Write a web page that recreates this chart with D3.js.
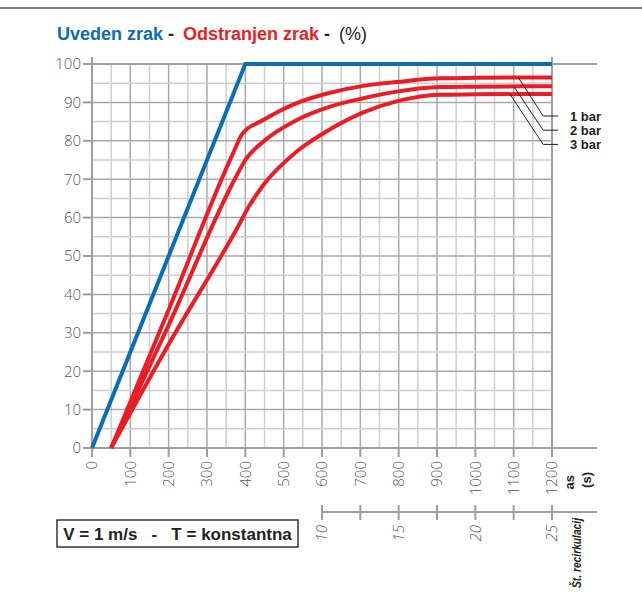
<!DOCTYPE html>
<html>
<head>
<meta charset="utf-8">
<script src="https://cdn.jsdelivr.net/npm/d3@7"></script>
<style>
  body { margin: 0; background: #fff; }
  svg { display: block; }
  .tick-lab { font-family: 'Open Sans', sans-serif; font-weight: 300; font-size: 15px; fill: #555; }
  .anno { font-family: 'Liberation Sans', sans-serif; font-weight: bold; fill: #222; }
</style>
</head>
<body>
<div id="chart"></div>
<script>
// Values
const xTicks = [0, 100, 200, 300, 400, 500, 600, 700, 800, 900, 1000, 1100, 1200];
const yTicks = [0, 10, 20, 30, 40, 50, 60, 70, 80, 90, 100];
const recircTicks = [10, 12.5, 15, 17.5, 20, 22.5, 25];
const recircLabels = [10, 15, 20, 25];

// Uveden zrak (air in)
const inTime = [0, 400, 1200];
const inPct = [0, 100, 100];

// Odstranjen zrak (air out), one series per pressure
const barNames = ['1 bar', '2 bar', '3 bar'];
const outTime = [
  [50, 200, 370, 392, 447, 534, 621, 708, 795, 908, 1000, 1200],
  [50, 200, 375, 400, 447, 534, 621, 708, 795, 908, 1000, 1200],
  [50, 200, 380, 410, 447, 534, 621, 708, 799, 908, 1000, 1200]
];
const outPct = [
  [0, 36, 77.2, 81.8, 85.4, 89.8, 92.5, 94.3, 95.3, 96.3, 96.4, 96.5],
  [0, 32, 70.5, 75, 79.8, 85.4, 88.9, 91.1, 92.8, 94.0, 94.1, 94.2],
  [0, 27, 57.5, 63, 68.5, 77.2, 83.0, 87.4, 90.4, 92.0, 92.1, 92.2]
];

const W = 642, H = 600;
const svg = d3.select('#chart').append('svg')
  .attr('width', W)
  .attr('height', H);

const x = d3.scaleLinear().domain([0, 1200]).range([92, 552]);
const y = d3.scaleLinear().domain([0, 100]).range([448, 64]);
// recirculations are shown under the time axis: 10 at 600 s, 25 at 1200 s
const r = d3.scaleLinear().domain([10, 25]).range([x(600), x(1200)]);

const blue = '#0b6db5';
const red = '#ec1c24';

// top rule
svg.append('line')
  .attr('x1', 0).attr('x2', W)
  .attr('y1', 8).attr('y2', 8)
  .attr('stroke', '#555').attr('stroke-width', 1.5);

// title
const title = svg.append('text')
  .attr('x', 57).attr('y', 40)
  .style('font-family', 'Liberation Sans, sans-serif')
  .style('font-weight', 'bold')
  .style('font-size', '18px');
title.append('tspan').attr('fill', blue).text('Uveden zrak');
title.append('tspan').attr('fill', '#222').text(' - ');
title.append('tspan').attr('fill', red).attr('dx', 4).text('Odstranjen zrak');
title.append('tspan').attr('fill', '#222').text(' - ');
title.append('tspan').attr('fill', '#222').attr('dx', 4).style('font-weight', 'normal').text('(%)');

// grid
const grid = svg.append('g');
grid.selectAll('.vg')
  .data(d3.range(0, 1201, 50))
  .enter().append('line')
  .attr('x1', d => x(d)).attr('x2', d => x(d))
  .attr('y1', y(0)).attr('y2', y(100))
  .attr('stroke', d => d % 100 === 0 ? '#a9a9ad' : '#cfcfd2')
  .attr('stroke-width', 1.5);
grid.selectAll('.hg')
  .data(d3.range(0, 101, 5))
  .enter().append('line')
  .attr('x1', x(0)).attr('x2', x(1200))
  .attr('y1', d => y(d)).attr('y2', d => y(d))
  .attr('stroke', d => d % 10 === 0 ? '#a9a9ad' : '#cfcfd2')
  .attr('stroke-width', 1.5);

// axis frame
const axisCol = '#9d9da2';
[0, 100].forEach(v => {
  svg.append('line')
    .attr('x1', x(0) - 9).attr('x2', 597)
    .attr('y1', y(v)).attr('y2', y(v))
    .attr('stroke', axisCol).attr('stroke-width', 2);
});
[0, 1200].forEach(v => {
  svg.append('line')
    .attr('x1', x(v)).attr('x2', x(v))
    .attr('y1', y(100) - 7).attr('y2', y(0) + 9)
    .attr('stroke', axisCol).attr('stroke-width', 2);
});

// y ticks + labels
svg.selectAll('.yt')
  .data(yTicks)
  .enter().append('line')
  .attr('x1', x(0) - 9).attr('x2', x(0))
  .attr('y1', d => y(d)).attr('y2', d => y(d))
  .attr('stroke', axisCol).attr('stroke-width', 2);
svg.selectAll('.yl')
  .data(yTicks)
  .enter().append('text')
  .attr('class', 'tick-lab')
  .attr('x', x(0) - 11)
  .attr('y', d => y(d))
  .attr('dy', '0.36em')
  .attr('text-anchor', 'end')
  .text(d => d);

// x ticks + labels
svg.selectAll('.xt')
  .data(xTicks)
  .enter().append('line')
  .attr('x1', d => x(d)).attr('x2', d => x(d))
  .attr('y1', y(0)).attr('y2', y(0) + 9)
  .attr('stroke', axisCol).attr('stroke-width', 2);
svg.selectAll('.xl')
  .data(xTicks)
  .enter().append('text')
  .attr('class', 'tick-lab')
  .attr('transform', d => `translate(${x(d)},${y(0) + 13}) rotate(-90)`)
  .attr('dy', '0.36em')
  .attr('text-anchor', 'end')
  .text(d => d);

svg.append('text')
  .attr('class', 'anno')
  .style('font-size', '13px')
  .attr('transform', `translate(${x(1200) + 22},475) rotate(-90)`)
  .attr('text-anchor', 'end')
  .text('as');
svg.append('text')
  .attr('class', 'anno')
  .style('font-size', '13px')
  .attr('transform', `translate(${x(1200) + 39},472) rotate(-90)`)
  .attr('text-anchor', 'end')
  .text('(s)');

// recirculation axis
const ry = 512;
svg.append('line')
  .attr('x1', r(10)).attr('x2', 597)
  .attr('y1', ry).attr('y2', ry)
  .attr('stroke', axisCol).attr('stroke-width', 2);
svg.selectAll('.rt')
  .data(recircTicks)
  .enter().append('line')
  .attr('x1', d => r(d)).attr('x2', d => r(d))
  .attr('y1', ry - 7).attr('y2', ry + 8)
  .attr('stroke', axisCol).attr('stroke-width', 2);
svg.selectAll('.rl')
  .data(recircLabels)
  .enter().append('text')
  .attr('class', 'tick-lab')
  .style('font-style', 'italic')
  .attr('transform', d => `translate(${r(d)},${ry + 13}) rotate(-90)`)
  .attr('dy', '0.36em')
  .attr('text-anchor', 'end')
  .text(d => d);
svg.append('text')
  .attr('class', 'anno')
  .style('font-size', '12px')
  .style('font-style', 'italic')
  .attr('transform', `translate(${r(25) + 29},518) rotate(-90)`)
  .attr('text-anchor', 'end')
  .attr('textLength', 70)
  .attr('lengthAdjust', 'spacingAndGlyphs')
  .text('Št. recirkulacij');

// curves
const line = d3.line()
  .x(d => x(d[0]))
  .y(d => y(d[1]))
  .curve(d3.curveMonotoneX);

outTime.forEach((ts, i) => {
  svg.append('path')
    .datum(ts.map((t, j) => [t, outPct[i][j]]))
    .attr('d', line)
    .attr('fill', 'none')
    .attr('stroke', red)
    .attr('stroke-width', 4);
});

svg.append('path')
  .datum(inTime.map((t, j) => [t, inPct[j]]))
  .attr('d', d3.line().x(d => x(d[0])).y(d => y(d[1])))
  .attr('fill', 'none')
  .attr('stroke', blue)
  .attr('stroke-width', 4);

// leaders to the bar labels
const leadStart = [1112, 1100, 1090];
barNames.forEach((name, i) => {
  const sx = x(leadStart[i]);
  const sy = y(outPct[i][outPct[i].length - 1]);
  const ey = 116 + i * 14.2;
  svg.append('polyline')
    .attr('points', `${sx},${sy} ${x(1177)},${ey} ${x(1216)},${ey}`)
    .attr('fill', 'none')
    .attr('stroke', '#222')
    .attr('stroke-width', 1);
  svg.append('text')
    .attr('class', 'anno')
    .style('font-size', '13px')
    .attr('x', 570)
    .attr('y', ey + 4.5)
    .text(name);
});

// condition box
svg.append('rect')
  .attr('x', 57).attr('y', 520)
  .attr('width', 241).attr('height', 27)
  .attr('fill', 'none')
  .attr('stroke', '#333')
  .attr('stroke-width', 1.5);
svg.append('text')
  .attr('class', 'anno')
  .style('font-size', '17px')
  .attr('x', 177.5).attr('y', 540)
  .attr('text-anchor', 'middle')
  .attr('xml:space', 'preserve')
  .text('V = 1 m/s   -   T = konstantna');
</script>
</body>
</html>
